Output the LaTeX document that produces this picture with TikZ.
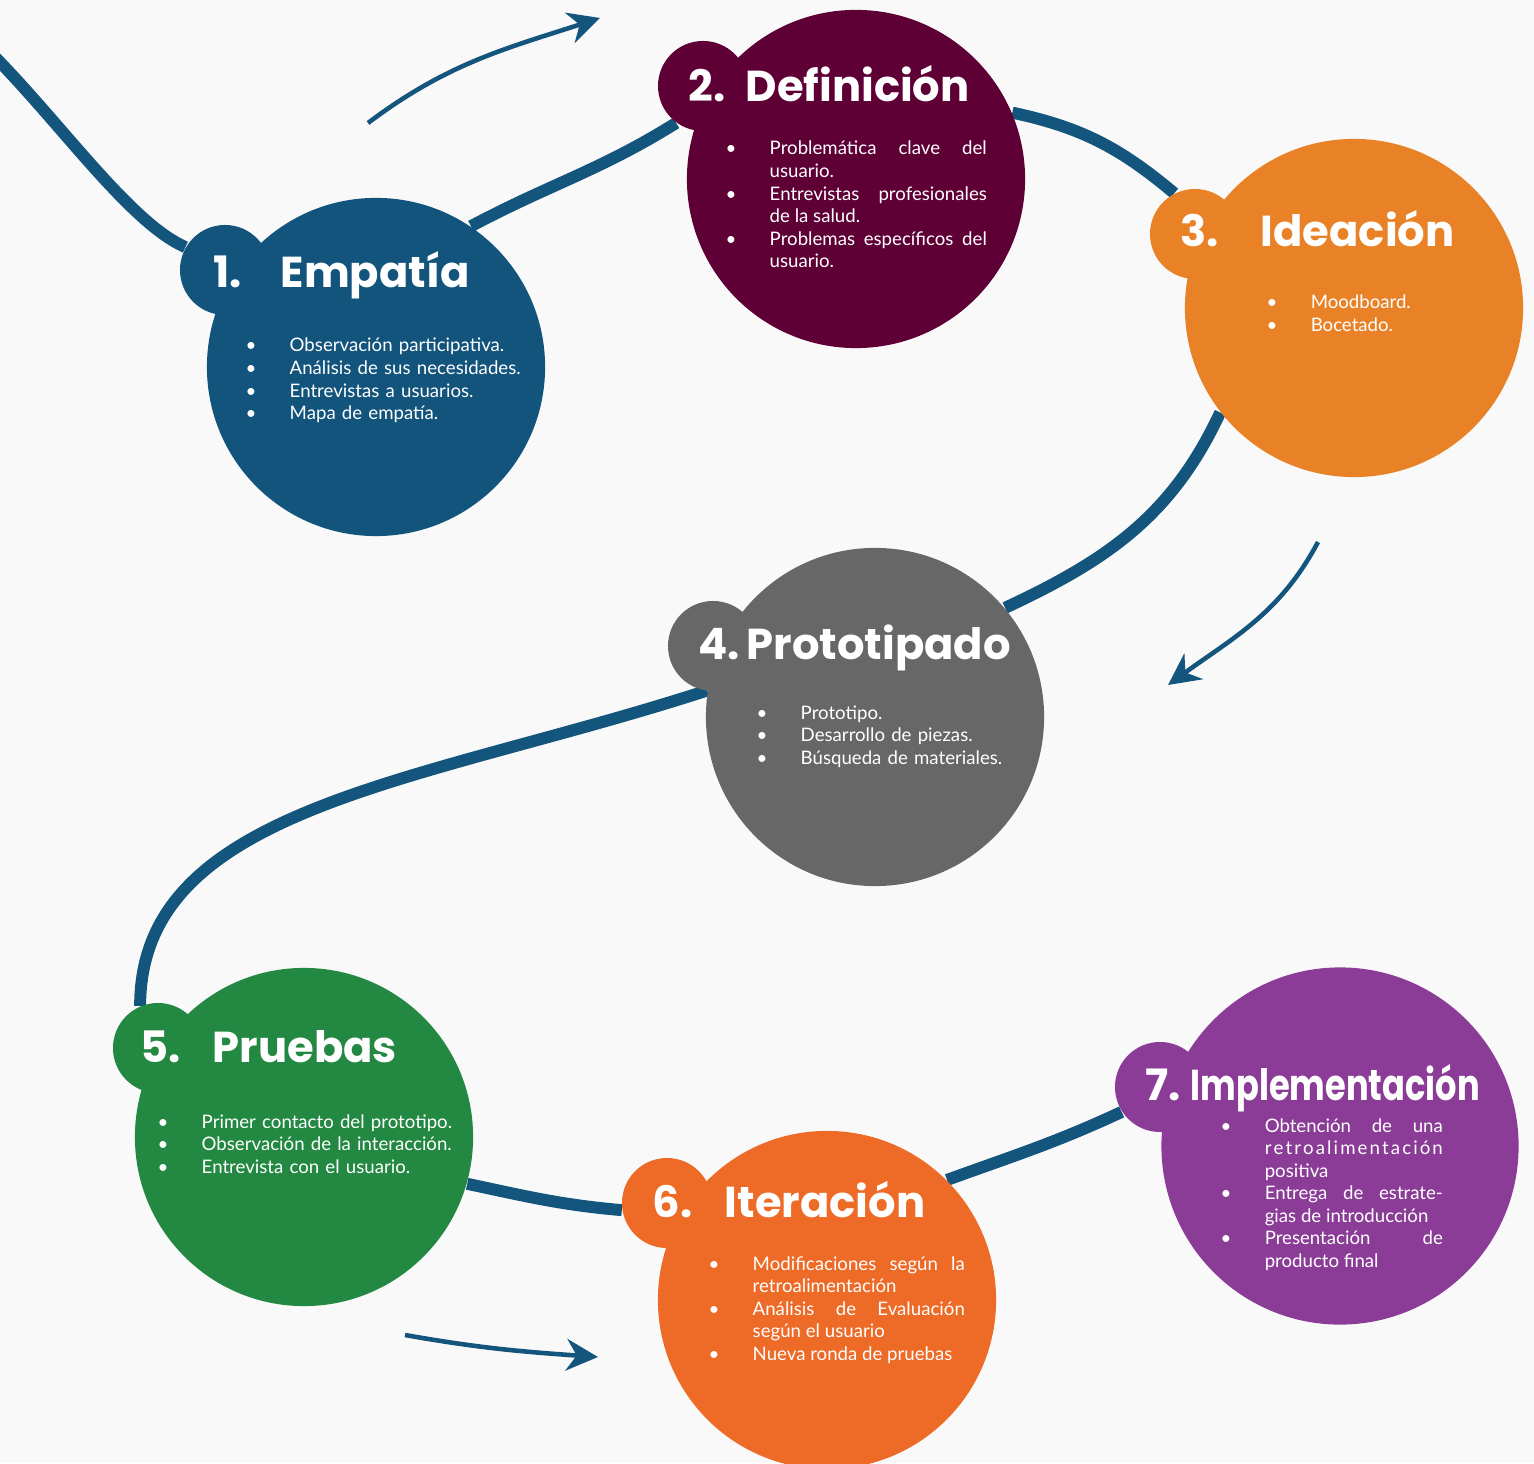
\documentclass[tikz,border=0pt]{standalone}
\usepackage{fontspec}
\setmainfont{Lato}
\newfontfamily\headfont{Poppins}
\usetikzlibrary{arrows.meta, backgrounds}

\definecolor{flowblue}{HTML}{14557E}
\definecolor{empcol}{HTML}{12547C}
\definecolor{defcol}{HTML}{5E0036}
\definecolor{idecol}{HTML}{E98227}
\definecolor{procol}{HTML}{676767}
\definecolor{prucol}{HTML}{238842}
\definecolor{itecol}{HTML}{EE6A27}
\definecolor{impcol}{HTML}{8A3C96}
\definecolor{bgcol}{HTML}{F9F9F9}

\newlength{\bind}\setlength{\bind}{0.46cm}
% one bullet line of a stage
\newcommand{\itm}[1]{\noindent\hangindent=\bind\hangafter=1\makebox[\bind][l]{\hspace{0.02cm}\textbullet}#1\par}

\tikzset{
x=0.01cm, y=0.01cm, % one unit is one pixel of the sketch
blob/.style={circle, inner sep=0pt, minimum size=3.38cm}, % the big disc of a stage
bump/.style={circle, inner sep=0pt, minimum size=0.9cm}, % the small disc on its top left
flow/.style={draw=flowblue, line width=3.4pt}, % the path through the stages
hint/.style={draw=flowblue, line width=1.3pt, -{Stealth[length=9pt,width=9pt]}}, % loose arrows
head/.style={text=white, font=\headfont\bfseries\fontsize{12.3}{14}\selectfont, inner sep=0pt, anchor=base west},
body/.style={text=white, font=\fontsize{5.3}{6.4}\selectfont, inner sep=0pt, anchor=base west},
}

\begin{document}
\begin{tikzpicture}
    \useasboundingbox (0,0) rectangle (1534,1463);
    \clip (0,0) rectangle (1534,1463);

    % stages
    \node[blob, fill=empcol] (emp) at (376,1096) {};
    \node[bump, fill=empcol] (empb) at (225,1193) {};
    \node[blob, fill=defcol] (def) at (856,1284) {};
    \node[bump, fill=defcol] (defb) at (703,1377) {};
    \node[blob, fill=idecol] (ide) at (1354,1155) {};
    \node[bump, fill=idecol] (ideb) at (1195,1229) {};
    \node[blob, fill=procol] (pro) at (875,746) {};
    \node[bump, fill=procol] (prob) at (713,817) {};
    \node[blob, fill=prucol] (pru) at (304,326) {};
    \node[bump, fill=prucol] (prub) at (158,415) {};
    \node[blob, fill=itecol] (ite) at (827,163) {};
    \node[bump, fill=itecol] (iteb) at (667,260) {};
    \node[blob, fill=impcol, minimum size=3.57cm] (imp) at (1340,317) {};
    \node[bump, fill=impcol] (impb) at (1160,376) {};

    % path behind the stages
    \coordinate (start) at (-10,1411);
    \begin{scope}[on background layer]
    \fill[bgcol] (0,0) rectangle (1534,1463);
    \draw[flow] (start) .. controls (60,1341) and (130,1240) .. (empb.150);
    \draw[flow] (emp.56) to[out=28,in=212] (defb.234);
    \draw[flow] (def.23) to[out=-12,in=140] (ideb.117);
    \draw[flow] (ide.218) to[out=245,in=25] (pro.40);
    \draw[flow] (pro.171) .. controls +(198:300) and +(90:200) .. (prub.113);
    \draw[flow] (pru.-16) to[out=-12,in=175] (iteb.189);
    \draw[flow] (ite.45) to[out=20,in=205] (impb.213);
    \end{scope}

    % titles
    \node[head] (n1) at (213,1175) {1.};
    \node[head] (t1) at (280,1175) {Empatía};
    \node[head] (n2) at (688,1361) {2.};
    \node[head] (t2) at (745,1361) {Definición};
    \node[head] (n3) at (1180,1216) {3.};
    \node[head] (t3) at (1260,1216) {Ideación};
    \node[head] (n4) at (698,803) {4.};
    \node[head] (t4) at (746,803) {Prototipado};
    \node[head] (n5) at (140,401) {5.};
    \node[head] (t5) at (212,401) {Pruebas};
    \node[head] (n6) at (652,246) {6.};
    \node[head] (t6) at (724,246) {Iteración};
    \node[head] (n7) at (1145,363) {7.};
    \node[head] (t7) at (1190,363) {\resizebox{2.89cm}{\height}{Implementación}};

    % bullet lists
    \node[body, text width=3cm, align=left] (b1) at (243,1111) {%
        \itm{Observación participativa.}\itm{Análisis de sus necesidades.}%
        \itm{Entrevistas a usuarios.}\itm{Mapa de empatía.}};
    \node[body, text width=2.63cm, align=justify] (b2) at (723,1308) {%
        \itm{Problemática clave del\linebreak usuario.}%
        \itm{Entrevistas profesionales\linebreak de la salud.}%
        \itm{Problemas específicos del\linebreak usuario.}};
    \node[body, text width=2.5cm, align=left] (b3) at (1264,1154) {%
        \itm{Moodboard.}\itm{Bocetado.}};
    \node[body, text width=3cm, align=left] (b4) at (754,744) {%
        \itm{Prototipo.}\itm{Desarrollo de piezas.}\itm{Búsqueda de materiales.}};
    \node[body, text width=3.2cm, align=left] (b5) at (155,335) {%
        \itm{Primer contacto del prototipo.}\itm{Observación de la interacción.}%
        \itm{Entrevista con el usuario.}};
    \node[body, text width=2.58cm, align=justify] (b6) at (706,193) {%
        \itm{Modificaciones según la\linebreak retroalimentación}%
        \itm{Análisis de Evaluación\linebreak según el usuario}%
        \itm{Nueva ronda de pruebas}};
    \node[body, text width=2.24cm, align=justify] (b7) at (1218,331) {%
        \itm{Obtención de una\linebreak \makebox[1.78cm][s]{r\hfill e\hfill t\hfill r\hfill o\hfill a\hfill l\hfill i\hfill m\hfill e\hfill n\hfill t\hfill a\hfill c\hfill i\hfill ó\hfill n}\linebreak positiva}%
        \itm{Entrega de estrate-\linebreak gias de introducción}%
        \itm{Presentación de\linebreak producto final}};

    % loose arrows
    \coordinate (a1s) at (368,1340);
    \coordinate (a1e) at (600,1445);
    \draw[hint] (a1s) to[out=37,in=198] (a1e);
    \coordinate (a2s) at (1318,921);
    \coordinate (a2e) at (1168,778);
    \draw[hint] (a2s) to[out=-118,in=36] (a2e);
    \coordinate (a3s) at (405,128);
    \coordinate (a3e) at (598,106);
    \draw[hint] (a3s) to[out=-10,in=176] (a3e);
\end{tikzpicture}
\end{document}
